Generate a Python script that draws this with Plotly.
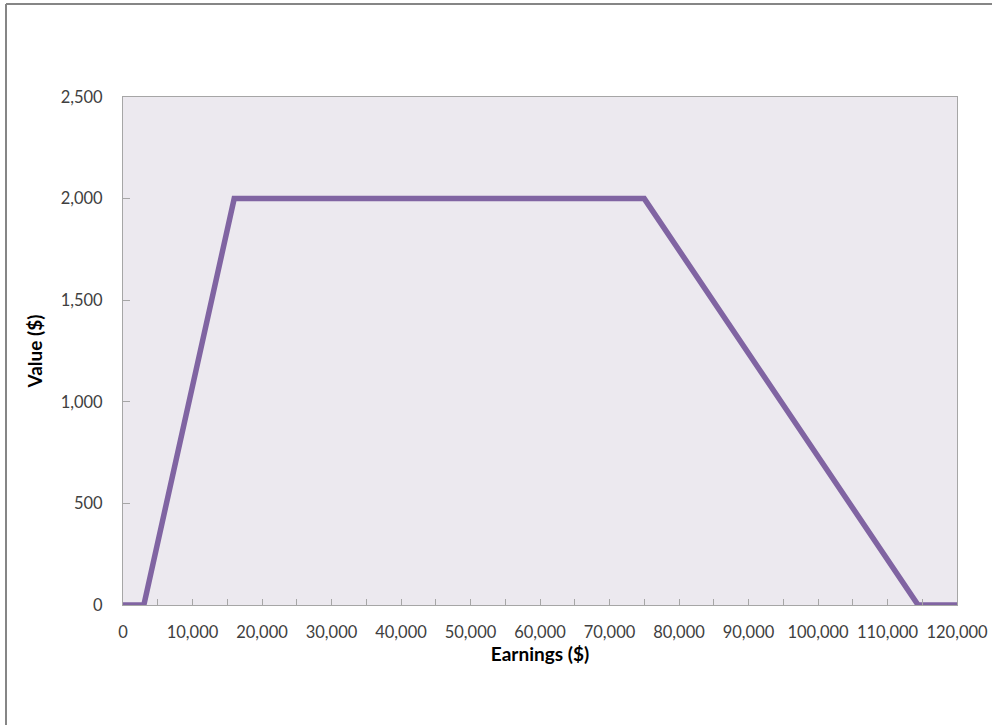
import plotly.graph_objects as go

# Earnings ($) vs value ($): phase-in, plateau, phase-out
earnings = [0, 3000, 16000, 75000, 114400, 120000]
value = [0, 0, 2000, 2000, 0, 0]

x_ticks = list(range(0, 120001, 10000))
y_ticks = list(range(0, 2501, 500))

LINE = "#8064A2"
PLOT_BG = "#ECE9EF"
AXIS = "#A6A6A6"
TICK_TEXT = "#404040"
FRAME = "#868686"
FONT = "Lato, Open Sans, sans-serif"

fig = go.Figure()
fig.add_trace(go.Scatter(
    x=earnings, y=value,
    mode="lines",
    line=dict(color=LINE, width=5.5),
    showlegend=False,
))

fig.update_layout(
    width=992, height=725,
    margin=dict(l=123, r=35, t=97, b=120),
    paper_bgcolor="white",
    plot_bgcolor=PLOT_BG,
    font=dict(family=FONT, size=16.5, color=TICK_TEXT),
    xaxis=dict(
        range=[0, 120000],
        tickvals=x_ticks,
        tickformat=",d",
        ticks="inside", ticklen=6, tickcolor=AXIS,
        minor=dict(ticks="inside", dtick=5000, ticklen=6, tickcolor=AXIS),
        showgrid=False, zeroline=False, automargin=False,
        showline=True, linecolor=AXIS, linewidth=1, mirror=True,
        ticklabelstandoff=12,
        title=dict(text="<b>Earnings ($)</b>", font=dict(size=19, color="black"), standoff=6),
    ),
    yaxis=dict(
        range=[0, 2500],
        tickvals=y_ticks,
        tickformat=",d",
        ticks="inside", ticklen=7, tickcolor=AXIS,
        showgrid=False, zeroline=False, automargin=False,
        showline=True, linecolor=AXIS, linewidth=1, mirror=True,
        ticklabelstandoff=16,
        title=dict(text="<b>Value ($)</b>", font=dict(size=19, color="black"), standoff=13),
    ),
    # outer chart frame (only left and top edges fall inside the picture)
    shapes=[
        dict(type="line", xref="paper", yref="paper",
             x0=-117 / 834, x1=1.2, y0=1 + 93 / 508, y1=1 + 93 / 508,
             line=dict(color=FRAME, width=2)),
        dict(type="line", xref="paper", yref="paper",
             x0=-117 / 834, x1=-117 / 834, y0=-0.5, y1=1 + 93 / 508,
             line=dict(color=FRAME, width=2)),
    ],
)

fig.write_html("out.html", config={"displayModeBar": False},
               post_script="document.body.style.margin='0';")
